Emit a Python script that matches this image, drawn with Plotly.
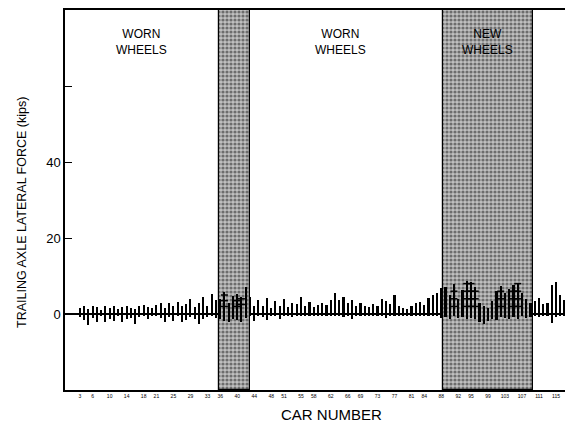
import plotly.graph_objects as go

# ---- data ----
cars = list(range(3, 118))
pos_force = [
    1.5, 2.0, 1.2, 2.2, 1.8, 1.0, 2.0, 1.6,                      # 3-10
    2.0, 1.4, 1.8, 2.2, 1.5, 1.2, 2.0, 2.4, 1.8, 1.6,            # 11-20
    2.5, 2.8, 1.6, 3.0, 2.2, 3.2, 2.0, 2.6, 4.0, 1.8,            # 21-30
    3.0, 4.6, 2.2, 5.2, 3.6,                                     # 31-35
    4.0, 5.8, 3.0, 4.8, 5.2, 4.4, 7.2,                           # 36-42
    4.6, 2.2, 3.8, 2.0, 4.2, 1.6, 3.4, 2.2, 4.0, 1.8,            # 43-52
    3.0, 2.6, 4.4, 2.0, 3.2, 1.8, 2.4, 3.0,                      # 53-60
    2.4, 3.6, 5.4, 3.8, 4.6, 2.8, 3.6, 2.0, 3.0, 2.2,            # 61-70
    1.8, 2.6, 2.0, 4.0, 3.4, 2.6, 5.0, 2.2, 1.6, 1.2,            # 71-80
    2.0, 2.8, 3.2, 2.4, 4.2, 5.0, 5.6,                           # 81-87
    6.8, 7.2, 5.0, 7.8, 4.0, 6.2, 8.6, 8.4, 7.0, 3.0,            # 88-97
    2.2, 1.6, 3.4, 6.0, 7.4, 5.4, 6.6, 7.6, 8.2, 5.6,            # 98-107
    4.0, 3.0,                                                    # 108-109
    3.4, 4.2, 2.6, 3.0, 7.6, 8.4, 5.0, 3.6,                      # 110-117
]
neg_force = [
    -0.8, -1.5, -2.8, -1.0, -2.2, -0.6, -2.0, -1.2,
    -1.8, -0.6, -2.0, -1.2, -1.0, -2.5, -0.8, -0.6, -1.4, -0.5,
    -0.5, -1.0, -2.2, -0.8, -1.8, -0.6, -2.0, -1.5, -0.8, -1.2,
    -2.6, -1.2, -0.8, -0.6, -1.0,
    -1.2, -1.8, -2.0, -1.4, -1.6, -2.0, -1.0,
    -0.6, -1.8, -0.4, -0.8, -1.6, -0.5, -0.6, -1.4, -0.4, -0.6,
    -0.8, -0.4, -0.5, -0.3, -0.4, -0.6, -0.3, -0.4,
    -0.4, -0.6, -0.5, -0.3, -0.8, -0.4, -1.2, -0.5, -0.3, -0.4,
    -0.3, -0.5, -0.4, -0.6, -1.0, -0.4, -0.3, -0.5, -0.4, -0.3,
    -0.6, -0.4, -0.3, -0.5, -0.4, -0.6, -0.5,
    -1.0, -0.8, -1.2, -0.6, -1.0, -0.8, -1.4, -1.0, -1.2, -2.0,
    -2.6, -1.8, -1.2, -1.6, -0.8, -1.0, -1.4, -0.8, -1.2, -0.6,
    -1.0, -0.8,
    -0.6, -0.8, -0.4, -0.6, -2.4, -0.8, -0.6, -0.4,
]
ladder_car = [37, 37, 37, 40, 40, 41, 41, 91, 91, 91, 94, 94, 94, 94,
              95, 95, 95, 95, 96, 96, 96, 102, 102, 102, 105, 105, 105,
              106, 106, 106, 106]
ladder_val = [2.0, 3.5, 5.0, 2.0, 3.5, 2.5, 4.0, 2.0, 4.0, 6.0, 2.0, 4.0, 6.0, 8.0,
              2.0, 4.0, 6.0, 8.0, 2.0, 4.0, 6.0, 2.0, 4.0, 6.0, 2.0, 4.0, 6.0,
              2.0, 4.0, 6.0, 8.0]
band_start = [35.7, 88.4]
band_end = [43.0, 109.6]
band_labels = ["WORN<br>WHEELS", "WORN<br>WHEELS", "NEW<br>WHEELS"]
band_label_x = [17.4, 64.4, 99.0]
x_tick_vals = [3, 6, 10, 14, 18, 21, 25, 29, 33, 36, 40, 44, 48, 51, 55, 58,
               62, 66, 69, 73, 77, 81, 84, 88, 92, 95, 99, 103, 107, 111, 115]
y_tick_vals = [0, 20, 40, 60]
y_tick_text = ["0", "20", "40", ""]

Y_MIN, Y_MAX = -20, 80
W, H = 565, 420
ML, MT, MB = 57, 0, 38
PW, PH = W - ML, H - MT - MB


def px_to_paper(px, py):
    return (px - ML) / PW, 1 - (py - MT) / PH


fig = go.Figure()

# stippled bands
fig.add_trace(go.Bar(
    x=[(s + e) / 2 for s, e in zip(band_start, band_end)],
    y=[Y_MAX - Y_MIN] * len(band_start),
    base=[Y_MIN] * len(band_start),
    width=[e - s for s, e in zip(band_start, band_end)],
    marker=dict(color="#c0c0c0",
                line=dict(color="black", width=1.2),
                pattern=dict(shape=".", fgcolor="#1a1a1a", bgcolor="#c0c0c0",
                             size=4, solidity=0.5)),
    hoverinfo="skip", showlegend=False,
))

# force bars
fig.add_trace(go.Bar(x=cars, y=pos_force, width=0.5, marker_color="black",
                     marker_line_width=0, showlegend=False))
fig.add_trace(go.Bar(x=cars, y=neg_force, width=0.5, marker_color="black",
                     marker_line_width=0, showlegend=False))
fig.add_trace(go.Scatter(x=ladder_car, y=ladder_val, mode="markers",
                         marker=dict(symbol="line-ew", size=5,
                                     line=dict(color="black", width=1.5)),
                         showlegend=False, hoverinfo="skip"))

for lx, lt in zip(band_label_x, band_labels):
    fig.add_annotation(x=lx, y=71.5, xref="x", yref="y", text=lt, showarrow=False,
                       font=dict(family="Liberation Sans, Arial", size=12, color="black"),
                       align="center")

# axis titles placed as annotations (figure pixel positions)
yx, yy = px_to_paper(14, 204)
fig.add_annotation(x=yx, y=yy, xref="paper", yref="paper",
                   text="TRAILING AXLE LATERAL FORCE (kips)", textangle=-90,
                   showarrow=False, xanchor="center", yanchor="middle",
                   font=dict(family="Liberation Sans, Arial", size=12.5, color="black"))
cx, cy = px_to_paper(323, 407)
fig.add_annotation(x=cx, y=cy, xref="paper", yref="paper",
                   text="CAR NUMBER", showarrow=False, xanchor="center", yanchor="middle",
                   font=dict(family="Liberation Sans, Arial", size=15, color="black"))

fig.update_layout(
    width=W, height=H,
    margin=dict(l=ML, r=0, t=MT, b=MB),
    paper_bgcolor="white", plot_bgcolor="white",
    barmode="overlay", bargap=0,
    font=dict(family="Liberation Sans, Arial", color="black"),
    xaxis=dict(range=[-0.5, 119], tickvals=x_tick_vals, ticks="",
               tickfont=dict(size=5, color="black"),
               showline=True, linecolor="black", linewidth=1.5, mirror=True,
               showgrid=False, zeroline=False),
    yaxis=dict(range=[Y_MIN, Y_MAX], tickvals=y_tick_vals, ticktext=y_tick_text,
               ticks="inside", ticklen=7, tickcolor="black", tickwidth=1.2,
               tickfont=dict(size=13, color="black"),
               showline=True, linecolor="black", linewidth=1.5,
               showgrid=False, zeroline=True, zerolinecolor="black",
               zerolinewidth=2),
)

fig.write_html("out.html")
